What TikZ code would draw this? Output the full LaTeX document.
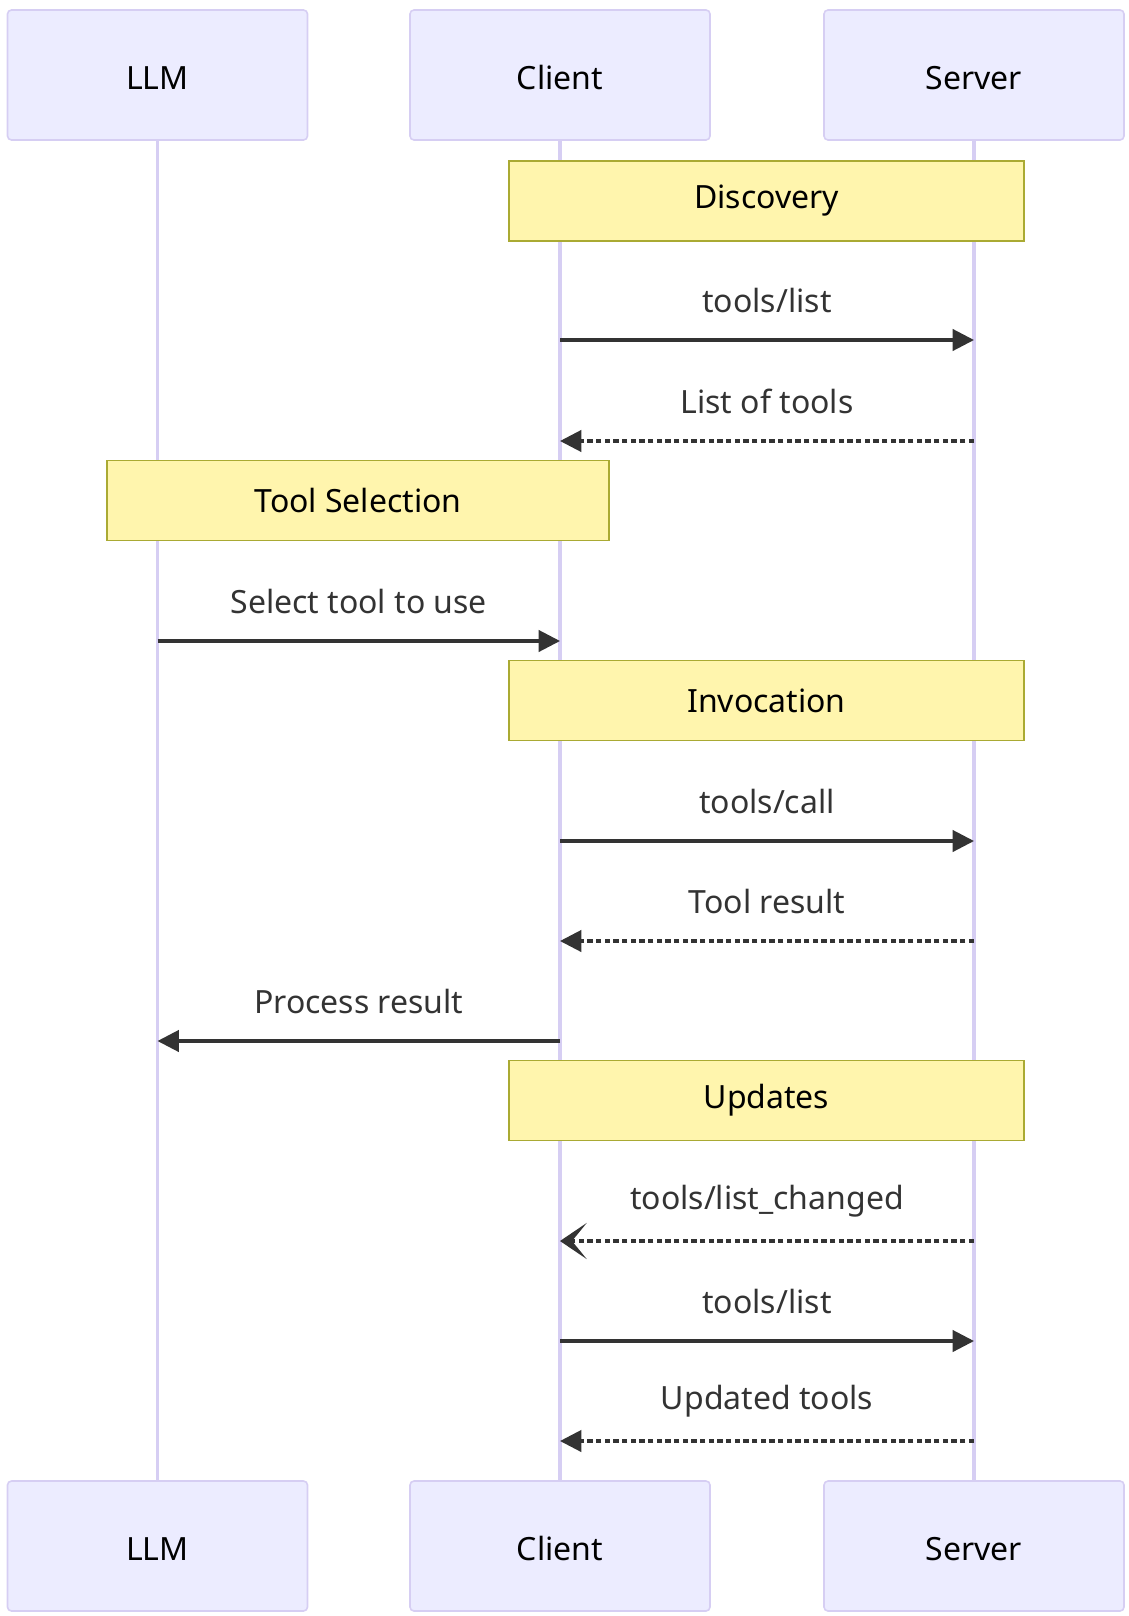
\documentclass[tikz,border=0pt]{standalone}
\usepackage{fontspec}
\setmainfont{Noto Sans}
\usetikzlibrary{arrows.meta}
\definecolor{actorfill}{HTML}{ECECFF}
\definecolor{actorline}{HTML}{D6CEF3}
\definecolor{notefill}{HTML}{FFF5AD}
\definecolor{noteline}{HTML}{AAAA33}
\definecolor{msgline}{HTML}{333333}

\begin{document}
\begin{tikzpicture}[x=0.75pt, y=-0.75pt,
	actor/.style={draw=actorline, fill=actorfill, line width=1.2pt, rounded corners=3pt,
		minimum width=225pt, minimum height=97.5pt, text height=22pt, text depth=0pt,
		font=\fontsize{24}{28}\selectfont},
	lifeline/.style={draw=actorline, line width=2.4pt},
	notebox/.style={draw=noteline, fill=notefill, line width=1.2pt,
		minimum height=60pt, font=\fontsize{24}{28}\selectfont},
	msg/.style={draw=msgline, line width=2.3pt, -{Triangle[length=16pt,width=16pt]}},
	reply/.style={msg, dash pattern=on 4pt off 2.5pt},
	asyncmsg/.style={draw=msgline, line width=2.3pt, dash pattern=on 4pt off 2.5pt,
		-{Stealth[length=20pt,width=27pt,inset=11pt]}},
	msglabel/.style={midway, yshift=30pt, text=msgline, font=\fontsize{24}{28}\selectfont}]
	%%%%% START %%%%%
	
	\useasboundingbox (0,0) rectangle (1128,1616);
	
	\node[actor] (llmTop) at (157.5, 75) {LLM};
	\node[actor] (clientTop) at (560, 75) {Client};
	\node[actor] (serverTop) at (974, 75) {Server};
	
	\node[actor] (llmBot) at (157.5, 1546) {LLM};
	\node[actor] (clientBot) at (560, 1546) {Client};
	\node[actor] (serverBot) at (974, 1546) {Server};
	
	\draw[lifeline] (llmTop) -- (llmBot);
	\draw[lifeline] (clientTop) -- (clientBot);
	\draw[lifeline] (serverTop) -- (serverBot);
	
	\node[notebox, minimum width=386pt] (discovery) at (766.5, 201) {Discovery};
	\node[notebox, minimum width=376.5pt] (selection) at (358, 500.5) {Tool Selection};
	\node[notebox, minimum width=386pt] (invocation) at (766.5, 700.5) {Invocation};
	\node[notebox, minimum width=386pt] (updates) at (766.5, 1100.5) {Updates};
	
	\draw[msg] (clientTop |- 0,340) -- node[msglabel] {tools/list} (serverTop |- 0,340);
	\draw[reply] (serverTop |- 0,441) -- node[msglabel] {List of tools} (clientTop |- 0,441);
	
	\draw[msg] (llmTop |- 0,641) -- node[msglabel] {Select tool to use} (clientTop |- 0,641);
	
	\draw[msg] (clientTop |- 0,841) -- node[msglabel] {tools/call} (serverTop |- 0,841);
	\draw[reply] (serverTop |- 0,941) -- node[msglabel] {Tool result} (clientTop |- 0,941);
	\draw[msg] (clientTop |- 0,1041) -- node[msglabel] {Process result} (llmTop |- 0,1041);
	
	\draw[asyncmsg] (serverTop |- 0,1241) -- node[msglabel] {tools/list\_changed} (clientTop |- 0,1241);
	\draw[msg] (clientTop |- 0,1341) -- node[msglabel] {tools/list} (serverTop |- 0,1341);
	\draw[reply] (serverTop |- 0,1441) -- node[msglabel] {Updated tools} (clientTop |- 0,1441);
	
	%%%%% END %%%%%
\end{tikzpicture}
\end{document}
